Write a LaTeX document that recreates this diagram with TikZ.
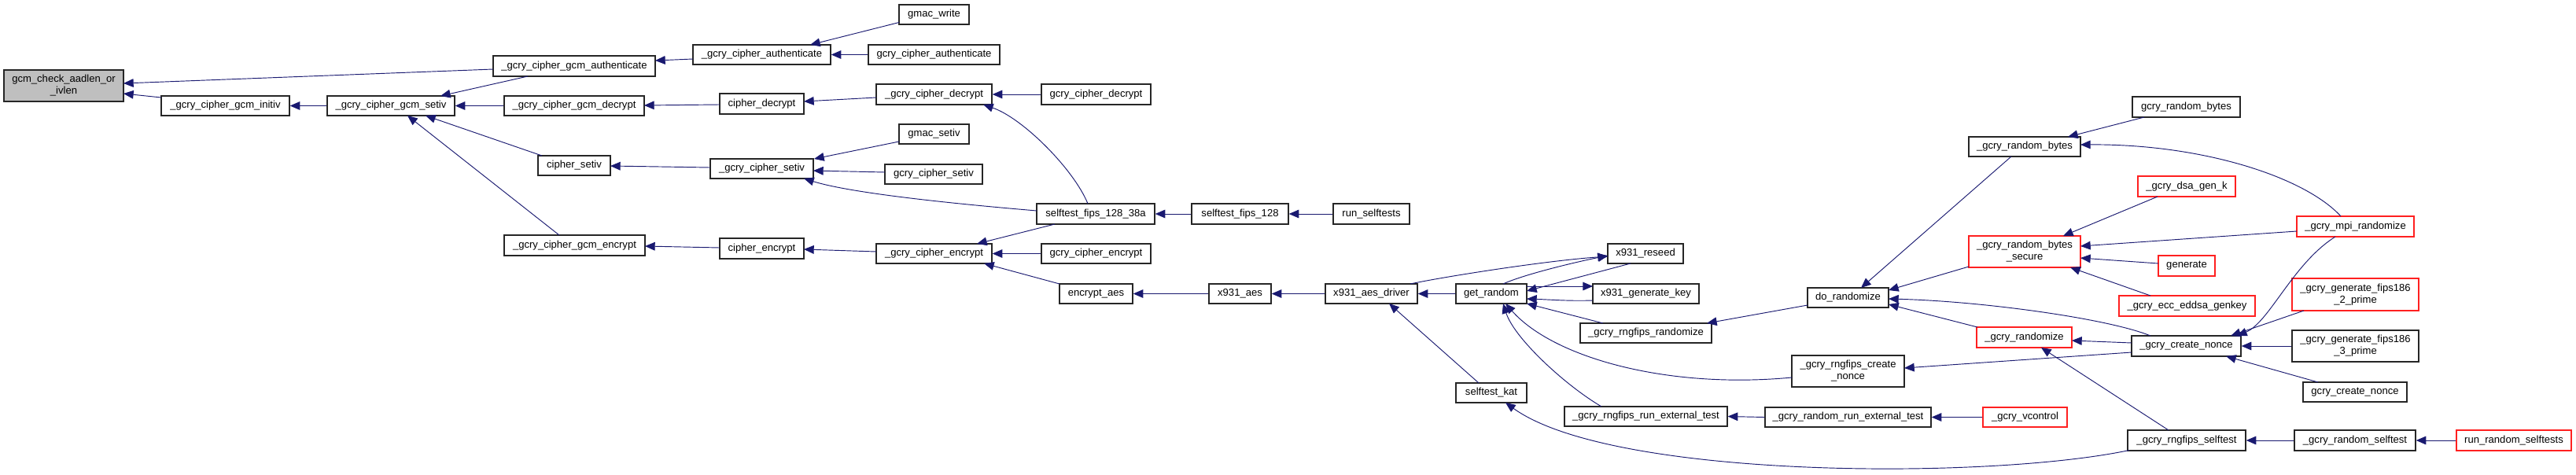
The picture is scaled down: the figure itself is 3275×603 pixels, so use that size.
\documentclass[tikz,border=0pt]{standalone}
\usepackage{fontspec}
\setmainfont{Liberation Sans}
\usetikzlibrary{arrows.meta,calc}
\definecolor{edgeblue}{HTML}{191970}
\definecolor{nodegray}{HTML}{BFBFBF}
\definecolor{nodered}{HTML}{FF2020}
\tikzset{
  box/.style={draw=black!85, fill=white, line width=1pt, inner sep=0pt, rectangle, align=center,
    font=\fontsize{9.8}{11.25}\selectfont},
  redbox/.style={box, draw=nodered},
  wh/.style 2 args={minimum width=#1*0.75pt, minimum height=#2*0.75pt},
  callarrow/.style={draw=edgeblue, line width=0.7pt, -{Triangle[length=9.5pt,width=8pt]}}
}
\begin{document}
\begin{tikzpicture}[x=0.75pt,y=-0.75pt]
\useasboundingbox (0,0) rectangle (3275,603);
% nodes
\node[box, fill=nodegray, wh={152}{40}] (gcm) at (81,109) {gcm\_check\_aadlen\_or\\\_ivlen};
\node[box, wh={206}{26}] (gcmauth) at (730,84) {\_gcry\_cipher\_gcm\_authenticate};
\node[box, wh={163}{25}] (initiv) at (286.5,134.5) {\_gcry\_cipher\_gcm\_initiv};
\node[box, wh={162}{25}] (gcmsetiv) at (497,134.5) {\_gcry\_cipher\_gcm\_setiv};
\node[box, wh={178}{25}] (gcmdec) at (730,134.5) {\_gcry\_cipher\_gcm\_decrypt};
\node[box, wh={92}{25}] (csetiv) at (730,210.5) {cipher\_setiv};
\node[box, wh={179}{26}] (gcmenc) at (730.5,312) {\_gcry\_cipher\_gcm\_encrypt};
\node[box, wh={175}{25}] (cauth) at (968.5,69.5) {\_gcry\_cipher\_authenticate};
\node[box, wh={89}{25}] (gmacw) at (1187.5,18.5) {gmac\_write};
\node[box, wh={167}{25}] (gcauth) at (1187.5,69.5) {gcry\_cipher\_authenticate};
\node[box, wh={107}{26}] (cdec) at (968.5,132) {cipher\_decrypt};
\node[box, wh={147}{26}] (ucdec) at (1187.5,120) {\_gcry\_cipher\_decrypt};
\node[box, wh={139}{26}] (gcdec) at (1393.5,120) {gcry\_cipher\_decrypt};
\node[box, wh={89}{25}] (gmacsetiv) at (1187.5,170.5) {gmac\_setiv};
\node[box, wh={131}{25}] (ucsetiv) at (968.5,214.5) {\_gcry\_cipher\_setiv};
\node[box, wh={124}{25}] (gcsetiv) at (1187,221.5) {gcry\_cipher\_setiv};
\node[box, wh={150}{26}] (stA) at (1393,272) {selftest\_fips\_128\_38a};
\node[box, wh={123}{26}] (stB) at (1576.5,272) {selftest\_fips\_128};
\node[box, wh={97}{26}] (runst) at (1743.5,272) {run\_selftests};
\node[box, wh={107}{26}] (cenc) at (968.5,316) {cipher\_encrypt};
\node[box, wh={147}{25}] (ucenc) at (1187.5,322.5) {\_gcry\_cipher\_encrypt};
\node[box, wh={139}{25}] (gcenc) at (1393.5,322.5) {gcry\_cipher\_encrypt};
\node[box, wh={93}{25}] (encaes) at (1393.5,373.5) {encrypt\_aes};
\node[box, wh={79}{25}] (xaes) at (1576.5,373.5) {x931\_aes};
\node[box, wh={117}{25}] (drv) at (1743.5,373.5) {x931\_aes\_driver};
\node[box, wh={90}{25}] (getr) at (1896,373.5) {get\_random};
\node[box, wh={96}{25}] (reseed) at (2092,322.5) {x931\_reseed};
\node[box, wh={135}{25}] (genkey) at (2092.5,373.5) {x931\_generate\_key};
\node[box, wh={167}{25}] (rrand) at (2092.5,423.5) {\_gcry\_rngfips\_randomize};
\node[box, wh={103}{25}] (dorand) at (2349.5,378.5) {do\_randomize};
\node[box, wh={143}{40}] (rnonce) at (2349.5,472) {\_gcry\_rngfips\_create\\\_nonce};
\node[box, wh={90}{25}] (stkat) at (1896,499.5) {selftest\_kat};
\node[box, wh={207}{25}] (rext) at (2092.5,529.5) {\_gcry\_rngfips\_run\_external\_test};
\node[box, wh={211}{25}] (randext) at (2349.5,530.5) {\_gcry\_random\_run\_external\_test};
\node[box, wh={137}{26}] (grb) at (2779.5,136) {gcry\_random\_bytes};
\node[box, wh={142}{25}] (ugrb) at (2574,186.5) {\_gcry\_random\_bytes};
\node[redbox, wh={124}{26}] (dsa) at (2780,237) {\_gcry\_dsa\_gen\_k};
\node[redbox, wh={149}{26}] (mpi) at (2994.5,288) {\_gcry\_mpi\_randomize};
\node[redbox, wh={142}{40}] (rbs) at (2574,320) {\_gcry\_random\_bytes\\\_secure};
\node[redbox, wh={72}{26}] (gen) at (2780,338) {generate};
\node[redbox, wh={173}{26}] (eddsa) at (2780.5,389) {\_gcry\_ecc\_eddsa\_genkey};
\node[redbox, wh={121}{26}] (rnd) at (2573.5,429) {\_gcry\_randomize};
\node[box, wh={139}{26}] (cn) at (2779.5,440) {\_gcry\_create\_nonce};
\node[redbox, wh={161}{41}] (ftwo) at (2994.5,374.5) {\_gcry\_generate\_fips186\\\_2\_prime};
\node[box, wh={161}{40}] (fthree) at (2994.5,440) {\_gcry\_generate\_fips186\\\_3\_prime};
\node[box, wh={132}{25}] (gcn) at (2994,498.5) {gcry\_create\_nonce};
\node[redbox, wh={107}{25}] (vctl) at (2574.5,530.5) {\_gcry\_vcontrol};
\node[box, wh={150}{26}] (rst) at (2780,560) {\_gcry\_rngfips\_selftest};
\node[box, wh={154}{26}] (rself) at (2994,560) {\_gcry\_random\_selftest};
\node[redbox, wh={146}{26}] (runrs) at (3196,560) {run\_random\_selftests};
% edges
\draw[callarrow] ($(gcmauth.center)+(-103,4)$) -- ($(gcm.center)+(76,-3)$);
\draw[callarrow] ($(initiv.center)+(-81.5,-10.5)$) -- ($(gcm.center)+(76,10)$);
\draw[callarrow] (gcmsetiv.west) -- (initiv.east);
\draw[callarrow] ($(gcmauth.center)+(-59,13)$) -- ($(gcmsetiv.center)+(63,-12.5)$);
\draw[callarrow] (gcmdec.west) -- (gcmsetiv.east);
\draw[callarrow] ($(csetiv.center)+(-41,-12.5)$) -- ($(gcmsetiv.center)+(44,12.5)$);
\draw[callarrow] ($(gcmenc.center)+(-19.5,-13)$) -- ($(gcmsetiv.center)+(21,12.5)$);
\draw[callarrow] ($(cauth.center)+(-87.5,5.5)$) -- ($(gcmauth.center)+(103,-7)$);
\draw[callarrow] ($(gmacw.center)+(-44.5,10)$) -- ($(cauth.center)+(61.5,-12.5)$);
\draw[callarrow] (gcauth.west) -- (cauth.east);
\draw[callarrow] ($(cdec.center)+(-53.5,1)$) -- ($(gcmdec.center)+(89,-0.5)$);
\draw[callarrow] ($(ucdec.center)+(-73.5,4)$) -- ($(cdec.center)+(53.5,-3)$);
\draw[callarrow] (gcdec.west) -- (ucdec.east);
\draw[callarrow] ($(stA.center)+(-10,-13)$) .. controls +(-18,-44) and +(50,17) .. ($(ucdec.center)+(62.5,13)$);
\draw[callarrow] ($(ucsetiv.center)+(-65.5,-1.5)$) -- ($(csetiv.center)+(46,0.5)$);
\draw[callarrow] ($(gmacsetiv.center)+(-44.5,9.5)$) -- ($(ucsetiv.center)+(66.5,-12.5)$);
\draw[callarrow] ($(gcsetiv.center)+(-62,-2.5)$) -- ($(ucsetiv.center)+(65.5,2.5)$);
\draw[callarrow] ($(stA.center)+(-75,-4)$) .. controls +(-118,-10) and +(58,18) .. ($(ucsetiv.center)+(53.5,12.5)$);
\draw[callarrow] ($(stA.center)+(-52,13)$) -- ($(ucenc.center)+(54.5,-12.5)$);
\draw[callarrow] (stB.west) -- (stA.east);
\draw[callarrow] (runst.west) -- (stB.east);
\draw[callarrow] ($(cenc.center)+(-53.5,-1)$) -- ($(gcmenc.center)+(89.5,1)$);
\draw[callarrow] ($(ucenc.center)+(-73.5,-2.5)$) -- ($(cenc.center)+(53.5,1)$);
\draw[callarrow] (gcenc.west) -- (ucenc.east);
\draw[callarrow] ($(encaes.center)+(-46.5,-12.5)$) -- ($(ucenc.center)+(63.5,12.5)$);
\draw[callarrow] (xaes.west) -- (encaes.east);
\draw[callarrow] (drv.west) -- (xaes.east);
\draw[callarrow] (getr.west) -- (drv.east);
\draw[callarrow] ($(stkat.center)+(-16,-12.5)$) -- ($(drv.center)+(22.5,12.5)$);
\draw[callarrow] ($(drv.center)+(49.5,-12.5)$) .. controls +(37,-8) and +(-84,6) .. ($(reseed.center)+(-48,3.5)$);
\draw[callarrow] ($(getr.center)+(15,-12.5)$) .. controls +(24,-11) and +(-49,10) .. ($(reseed.center)+(-48,2.5)$);
\draw[callarrow] ($(reseed.center)+(-19,12.5)$) -- ($(getr.center)+(45,-3.5)$);
\draw[callarrow] ($(getr.center)+(45,-9.5)$) -- ($(genkey.center)+(-67.5,-9.5)$);
\draw[callarrow] ($(genkey.center)+(-67.5,8.5)$) .. controls +(-30,1) and +(30,1) .. ($(getr.center)+(45,6.5)$);
\draw[callarrow] ($(rrand.center)+(-54.5,-12.5)$) -- ($(getr.center)+(45,12.5)$);
\draw[callarrow] ($(rnonce.center)+(-71.5,8)$) .. controls +(-158,15) and +(61,69) .. ($(getr.center)+(18,12.5)$);
\draw[callarrow] ($(rext.center)+(-56.5,-12.5)$) .. controls +(-46,-27) and +(14,44) .. ($(getr.center)+(15,12.5)$);
\draw[callarrow] ($(dorand.center)+(-51.5,9.5)$) -- ($(rrand.center)+(77.5,-12.5)$);
\draw[callarrow] (randext.west) -- (rext.east);
\draw[callarrow] (vctl.west) -- (randext.east);
\draw[callarrow] ($(rst.center)+(-73,12.5)$) .. controls +(-177,37.5) and +(136,98) .. ($(stkat.center)+(18,12.5)$);
\draw[callarrow] ($(ugrb.center)+(-17,12.5)$) -- ($(dorand.center)+(16.5,-12.5)$);
\draw[callarrow] ($(rbs.center)+(-71,19)$) -- ($(dorand.center)+(51.5,-9.5)$);
\draw[callarrow] ($(cn.center)+(-45.5,-13)$) .. controls +(-54,-22) and +(119,3) .. ($(dorand.center)+(51.5,1.5)$);
\draw[callarrow] ($(rnd.center)+(-59.5,-13)$) -- ($(dorand.center)+(51.5,8.5)$);
\draw[callarrow] ($(grb.center)+(-53.5,13)$) -- ($(ugrb.center)+(55,-12.5)$);
\draw[callarrow] ($(mpi.center)+(-18.5,-13)$) .. controls +(-46,-50) and +(155,-1) .. ($(ugrb.center)+(71,-2.5)$);
\draw[callarrow] ($(dsa.center)+(-37,13)$) -- ($(rbs.center)+(49,-20)$);
\draw[callarrow] ($(mpi.center)+(-74.5,6)$) -- ($(rbs.center)+(71,-7)$);
\draw[callarrow] ($(gen.center)+(-36,-3)$) -- ($(rbs.center)+(71,8)$);
\draw[callarrow] ($(eddsa.center)+(-46.5,-13)$) -- ($(rbs.center)+(58,20)$);
\draw[callarrow] ($(cn.center)+(-69.5,-4)$) -- ($(rnd.center)+(60.5,4)$);
\draw[callarrow] ($(cn.center)+(-69.5,8)$) -- ($(rnonce.center)+(71.5,-4)$);
\draw[callarrow] ($(rst.center)+(-23,-13)$) -- ($(rnd.center)+(21.5,13)$);
\draw[callarrow] ($(mpi.center)+(-25.5,13)$) .. controls +(-54,34) and +(41,-17) .. ($(cn.center)+(64.5,-13)$);
\draw[callarrow] ($(ftwo.center)+(-65.5,20.5)$) -- ($(cn.center)+(56.5,-13)$);
\draw[callarrow] (fthree.west) -- (cn.east);
\draw[callarrow] ($(gcn.center)+(-47,-12.5)$) -- ($(cn.center)+(50.5,13)$);
\draw[callarrow] (rself.west) -- (rst.east);
\draw[callarrow] (runrs.west) -- (rself.east);
\end{tikzpicture}
\end{document}
